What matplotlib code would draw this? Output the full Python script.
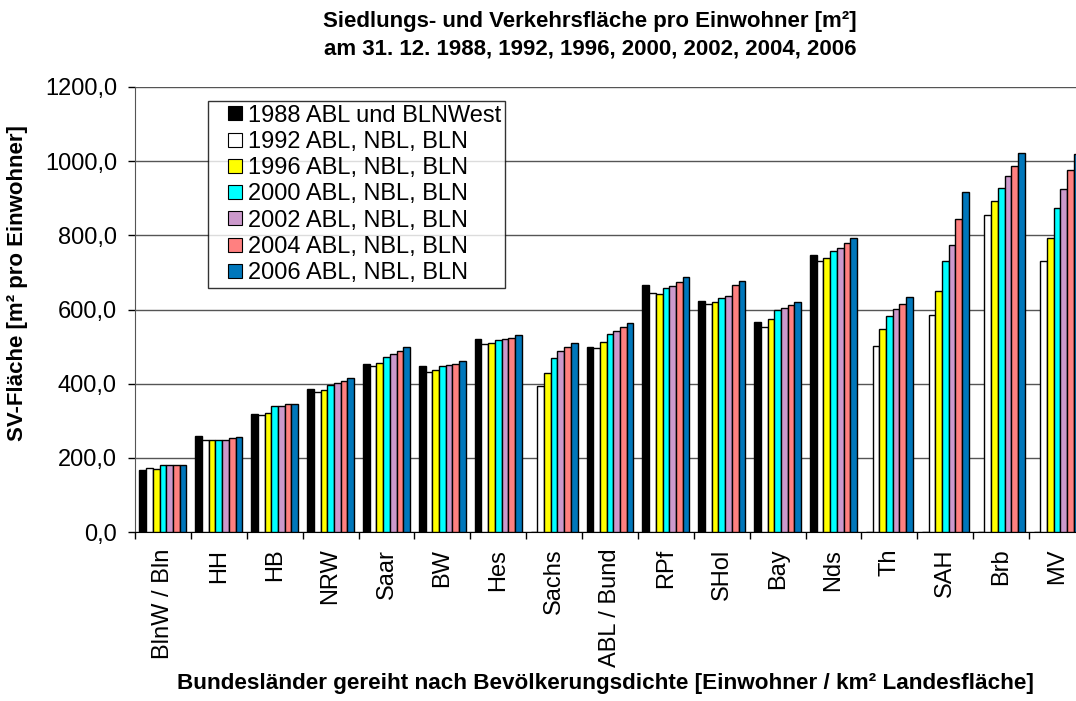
import matplotlib
matplotlib.use("Agg")
import matplotlib.pyplot as plt
from matplotlib.lines import Line2D
import numpy as np

plt.rcParams['font.family'] = ['Liberation Sans', 'DejaVu Sans']

# Bundesländer, sortiert nach Bevölkerungsdichte
laender = ['BlnW / Bln', 'HH', 'HB', 'NRW', 'Saar', 'BW', 'Hes', 'Sachs',
           'ABL / Bund', 'RPf', 'SHol', 'Bay', 'Nds', 'Th', 'SAH', 'Brb', 'MV']

# SV-Fläche pro Einwohner [m²], 0 = kein Wert
v1988 = [167, 260, 318, 386, 454, 448, 521, 0, 499, 667, 623, 566, 746, 0, 0, 0, 0]
v1992 = [173, 248, 315, 377, 448, 432, 506, 393, 497, 644, 616, 554, 731, 502, 586, 856, 730]
v1996 = [170, 248, 322, 384, 457, 437, 509, 429, 513, 643, 619, 575, 740, 548, 650, 892, 792]
v2000 = [181, 249, 341, 397, 473, 447, 517, 469, 533, 658, 630, 599, 759, 583, 731, 928, 873]
v2002 = [181, 249, 341, 401, 479, 450, 520, 488, 542, 664, 636, 603, 767, 602, 773, 960, 926]
v2004 = [182, 253, 345, 408, 487, 453, 524, 500, 553, 675, 666, 612, 779, 615, 843, 987, 976]
v2006 = [182, 255, 345, 414, 498, 460, 530, 511, 564, 688, 678, 619, 792, 633, 916, 1022, 1020]

serien = [
    ('1988 ABL und BLNWest', v1988, '#000000'),
    ('1992 ABL, NBL, BLN', v1992, '#FFFFFF'),
    ('1996 ABL, NBL, BLN', v1996, '#FFFF00'),
    ('2000 ABL, NBL, BLN', v2000, '#00FFFF'),
    ('2002 ABL, NBL, BLN', v2002, '#CC99CC'),
    ('2004 ABL, NBL, BLN', v2004, '#FF8080'),
    ('2006 ABL, NBL, BLN', v2006, '#0077BB'),
]

W, H = 1076, 701
fig = plt.figure(figsize=(W / 100, H / 100), dpi=100)
# Plotbereich geht rechts über das Bild hinaus (wie im Original abgeschnitten)
ax = fig.add_axes([135 / W, 1 - 532 / H, 950 / W, (532 - 87) / H])

n = len(laender)
x = np.arange(n) + 0.5
bw = 0.12
for j, (name, werte, farbe) in enumerate(serien):
    ax.bar(x + (j - 3) * bw, werte, bw, color=farbe, edgecolor='black',
           linewidth=1.0, zorder=3)

ax.set_xlim(0, n)
ax.set_ylim(0, 1200)
ax.set_yticks(np.arange(0, 1201, 200))
ax.set_yticklabels([('%.1f' % v).replace('.', ',') for v in np.arange(0, 1201, 200)],
                   fontsize=17)
ax.yaxis.grid(True, color='#555555', linewidth=1.0, zorder=0)
ax.set_axisbelow(True)

ax.set_xticks(x)
ax.set_xticklabels(laender, rotation=90, fontsize=17)
ax.set_xticks(np.arange(0, n + 1), minor=True)
ax.tick_params(axis='x', which='major', length=0, pad=12)
ax.tick_params(axis='x', which='minor', length=5, width=1, direction='out')
ax.tick_params(axis='y', length=5, width=1, direction='out', pad=8)

ax.spines['top'].set_visible(False)
ax.spines['right'].set_visible(False)
ax.spines['left'].set_color('#555555')
ax.spines['bottom'].set_color('black')

# Legende mit quadratischen Kästchen
handles = [Line2D([], [], linestyle='none', marker='s', markersize=10.5,
                  markerfacecolor=farbe, markeredgecolor='black',
                  markeredgewidth=0.8) for _, _, farbe in serien]
leg = ax.legend(handles, [s[0] for s in serien], loc='upper left',
                bbox_to_anchor=(208 / W, 1 - 101 / H),
                bbox_transform=fig.transFigure, fontsize=17, frameon=True,
                fancybox=False, shadow=False, handlelength=2.0,
                handletextpad=-0.45, borderpad=0.15, labelspacing=0.18,
                borderaxespad=0)
leg.get_frame().set_edgecolor('black')
leg.get_frame().set_linewidth(1.0)

fig.text(590 / W, 1 - 22 / H, 'Siedlungs- und Verkehrsfläche pro Einwohner [m²]',
         ha='center', va='center', fontsize=16, fontweight='bold')
fig.text(590 / W, 1 - 49 / H, 'am 31. 12. 1988, 1992, 1996, 2000, 2002, 2004, 2006',
         ha='center', va='center', fontsize=16, fontweight='bold')
fig.text(18 / W, 1 - 283 / H, 'SV-Fläche [m² pro Einwohner]', rotation=90,
         ha='center', va='center', fontsize=16, fontweight='bold')
fig.text(605 / W, 1 - 684 / H,
         'Bundesländer gereiht nach Bevölkerungsdichte [Einwohner / km² Landesfläche]',
         ha='center', va='center', fontsize=16.2, fontweight='bold')

fig.savefig('out.png', dpi=100)
